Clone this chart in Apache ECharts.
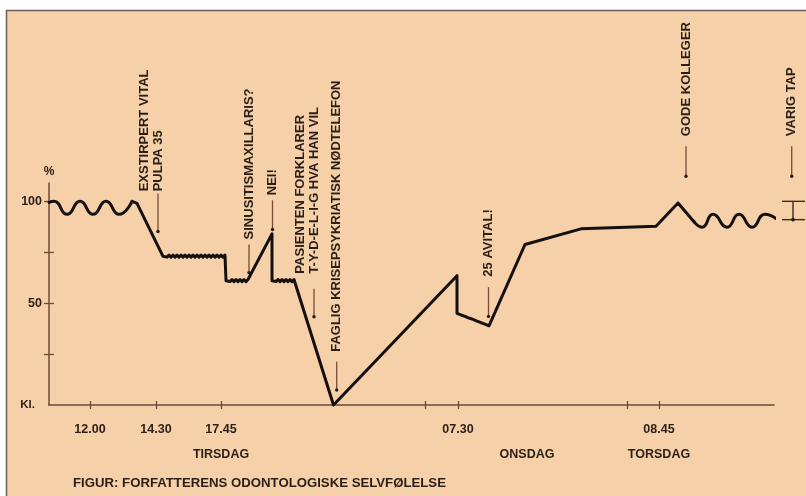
<!DOCTYPE html>
<html><head><meta charset="utf-8">
<script src="https://cdn.jsdelivr.net/npm/echarts@6/dist/echarts.min.js"></script>
<style>html,body{margin:0;padding:0;background:#fff}#c{width:806px;height:496px}</style>
</head><body><div id="c"></div>
<script>
// ---- data (x = position along the time strip, y = self-esteem %) ----
const yTickValues = [25, 50, 75, 100];
const yLabelValues = [0, 50, 100];
const yLabelTexts = ['Kl.', '50', '100'];
const xTickValues = [41, 107, 172, 376, 409, 578, 610];
const xLabelValues = [41, 107, 172, 409, 478, 610];
const xLabelTexts = ['12.00', '14.30', '17.45\nTIRSDAG', '07.30', '\nONSDAG', '08.45\nTORSDAG'];

const waveStart = [[0,99.5],[5,100],[18,93.6],[31,100],[44,93.6],[57,100],[70,93.6],[83,100]];
const mainPath = [
  [83,100],[88,99],[114,73],
  [116,73.6],[118,72.6],[120,73.6],[122,72.6],[124,73.6],[126,72.6],[128,73.6],[130,72.6],[132,73.6],[134,72.6],
  [136,73.6],[138,72.6],[140,73.6],[142,72.6],[144,73.6],[146,72.6],[148,73.6],[150,72.6],[152,73.6],[154,72.6],
  [156,73.6],[158,72.6],[160,73.6],[162,72.6],[164,73.6],[166,72.6],[168,73.6],[170,72.6],[172,73.6],[174,72.6],
  [176,73.6],[177,73],[177,61],
  [179,61.6],[181,60.6],[183,61.6],[185,60.6],[187,61.6],[189,60.6],[191,61.6],[193,60.6],[195,61.6],[197,60.6],[199,61.6],[201,61],
  [223,84],[223,61],
  [225,61.6],[227,60.6],[229,61.6],[231,60.6],[233,61.6],[235,60.6],[237,61.6],[239,60.6],[241,61.6],[243,60.6],[245,61.6],[247,61],
  [284.5,0],[408,63.5],[408,45],
  [410,45.6],[412,44.2],[414,44.9],[416,43.5],[418,44.1],[420,42.7],[422,43.3],[424,42.0],[426,42.6],[428,41.2],
  [430,41.8],[432,40.4],[434,41.1],[436,39.7],[438,40.3],[440,38.9],[442,38.5],
  [476,78.8],[532,86.5],[607,87.8],[629,99.2],[645,90]
];
const waveEnd = [[645,90],[653,87.3],[664,93.6],[678,87.3],[690,93.6],[703,87.3],[716,93.6],[727,91.5]];
const rangeBracketX = [733, 744, 756];
const rangeBracketY = [100, 91];

const annotationTexts = [
  'EXSTIRPERT VITAL\nPULPA 35',
  'SINUSITISMAXILLARIS?',
  'NEI!',
  'PASIENTEN FORKLARER\nT-Y-D-E-L-I-G HVA HAN VIL',
  'FAGLIG KRISEPSYKRIATISK NØDTELEFON',
  '25 AVITAL!',
  'GODE KOLLEGER',
  'VARIG TAP'
];
const annotationX = [109, 200, 223.5, 265, 287.7, 439.5, 637, 742.7];
const annotationArrowTop = [103.9, 78.8, 100.5, 57.1, 21.2, 57.9, 127, 127];
const annotationArrowBottom = [85.2, 65.0, 86.2, 43.3, 7.4, 43.5, 112.3, 112.3];
const annotationTextBase = [104.9, 81.3, 103, 64.5, 26.1, 63, 132, 132];
const captionText = 'FIGUR: FORFATTERENS ODONTOLOGISKE SELVFØLELSE';

// ---- chart ----
const FONT = '"Liberation Sans", Arial, Helvetica, sans-serif';
const TEXT = '#2b1e16';
const AXIS = '#6e4a3c';
const INK = '#151010';
const FS = 12.5;

const chart = echarts.init(document.getElementById('c'), null, {renderer: 'canvas'});

function lineSeries(data, smooth, color, width) {
  return {
    type: 'line', data: data, smooth: smooth ? 0.55 : false, symbol: 'none', clip: false,
    xAxisIndex: 0, yAxisIndex: 0, silent: true, animation: false,
    lineStyle: {color: color, width: width, join: 'round', cap: 'round'}, z: 5
  };
}

const option = {
  backgroundColor: '#F5D0A8',
  animation: false,
  grid: {left: 49, right: 32, top: 183, bottom: 91, containLabel: false},
  xAxis: [{
    type: 'value', min: 0, max: 725, position: 'bottom',
    axisLine: {show: true, lineStyle: {color: AXIS, width: 1.5}},
    axisTick: {show: true, customValues: xTickValues, length: 4, lineStyle: {color: AXIS, width: 1.3}},
    axisLabel: {
      show: true, customValues: xLabelValues, margin: 12,
      formatter: function (v) { const i = xLabelValues.indexOf(v); return i >= 0 ? xLabelTexts[i] : ''; },
      color: TEXT, fontFamily: FONT, fontSize: FS, fontWeight: 'bold', lineHeight: 25, verticalAlign: 'top'
    },
    splitLine: {show: false}
  }, {
    type: 'value', min: 0, max: 725, position: 'bottom',
    axisLine: {show: false},
    axisTick: {show: true, inside: true, customValues: xTickValues, length: 4, lineStyle: {color: AXIS, width: 1.3}},
    axisLabel: {show: false}, splitLine: {show: false}
  }],
  yAxis: [{
    type: 'value', min: 0, max: 109, position: 'left',
    name: '%', nameLocation: 'end', nameGap: 5,
    nameTextStyle: {color: TEXT, fontFamily: FONT, fontSize: 12, fontWeight: 'bold', align: 'center'},
    axisLine: {show: true, lineStyle: {color: AXIS, width: 1.5}},
    axisTick: {show: true, customValues: yTickValues, length: 5, lineStyle: {color: AXIS, width: 1.3}},
    axisLabel: {
      show: true, customValues: yLabelValues, margin: 7,
      formatter: function (v) { const i = yLabelValues.indexOf(v); return i === 0 ? '{k|' + yLabelTexts[0] + '}' : (i > 0 ? yLabelTexts[i] : ''); },
      color: TEXT, fontFamily: FONT, fontSize: FS, fontWeight: 'bold',
      rich: {k: {color: TEXT, fontFamily: FONT, fontSize: 11.5, fontWeight: 'bold', padding: [0, 7, 0, 0]}}
    },
    splitLine: {show: false}
  }, {
    type: 'value', min: 0, max: 109, position: 'left',
    axisLine: {show: false},
    axisTick: {show: true, inside: true, customValues: yTickValues, length: 5, lineStyle: {color: AXIS, width: 1.3}},
    axisLabel: {show: false}, splitLine: {show: false}
  }],
  series: [
    lineSeries(waveStart, true, INK, 3),
    lineSeries(mainPath, false, INK, 3),
    lineSeries(waveEnd, true, INK, 3)
  ]
};
chart.setOption(option);

const graphics = [
  {type: 'rect', shape: {x: 0, y: 0, width: 806, height: 10}, style: {fill: '#ffffff'}, silent: true},
  {type: 'rect', shape: {x: 0, y: 0, width: 6, height: 496}, style: {fill: '#ffffff'}, silent: true},
  {type: 'line', shape: {x1: 6, y1: 10.5, x2: 806, y2: 10.5}, style: {stroke: '#6a5f57', lineWidth: 1.5}, silent: true},
  {type: 'line', shape: {x1: 6.5, y1: 10, x2: 6.5, y2: 496}, style: {stroke: '#6a5f57', lineWidth: 1.5}, silent: true},
  {type: 'text', x: 73, y: 483, silent: true,
   style: {text: captionText, fill: TEXT, font: 'bold 13.2px ' + FONT, align: 'left', verticalAlign: 'middle'}}
];

// range bracket at the right end ("I" shape)
const bL = chart.convertToPixel({gridIndex: 0}, [rangeBracketX[0], rangeBracketY[0]]);
const bM = chart.convertToPixel({gridIndex: 0}, [rangeBracketX[1], rangeBracketY[1]]);
const bR = chart.convertToPixel({gridIndex: 0}, [rangeBracketX[2], rangeBracketY[1]]);
const bStroke = {stroke: '#3a2a22', lineWidth: 1.4};
graphics.push({type: 'line', silent: true, shape: {x1: bL[0], y1: bL[1], x2: bR[0], y2: bL[1]}, style: bStroke});
graphics.push({type: 'line', silent: true, shape: {x1: bL[0], y1: bM[1], x2: bR[0], y2: bM[1]}, style: bStroke});
graphics.push({type: 'line', silent: true, shape: {x1: bM[0], y1: bL[1], x2: bM[0], y2: bM[1]}, style: bStroke});
graphics.push({type: 'circle', silent: true, shape: {cx: bM[0], cy: bM[1], r: 1.8}, style: {fill: '#2a1a14'}});

annotationTexts.forEach(function (t, i) {
  const top = chart.convertToPixel({gridIndex: 0}, [annotationX[i], annotationArrowTop[i]]);
  const bot = chart.convertToPixel({gridIndex: 0}, [annotationX[i], annotationArrowBottom[i]]);
  const base = chart.convertToPixel({gridIndex: 0}, [annotationX[i], annotationTextBase[i]]);
  graphics.push({type: 'line', silent: true,
    shape: {x1: top[0], y1: top[1], x2: bot[0], y2: bot[1]},
    style: {stroke: '#7a4a3a', lineWidth: 1.3}});
  graphics.push({type: 'circle', silent: true,
    shape: {cx: bot[0], cy: bot[1], r: 1.7}, style: {fill: '#2a1a14'}});
  graphics.push({type: 'text', silent: true,
    x: base[0] + 7, y: base[1], rotation: Math.PI / 2,
    style: {text: t, fill: TEXT, font: 'bold 13px ' + FONT, lineHeight: 14, align: 'left', verticalAlign: 'bottom'}});
});

chart.setOption({graphic: graphics});
</script>
</body></html>
